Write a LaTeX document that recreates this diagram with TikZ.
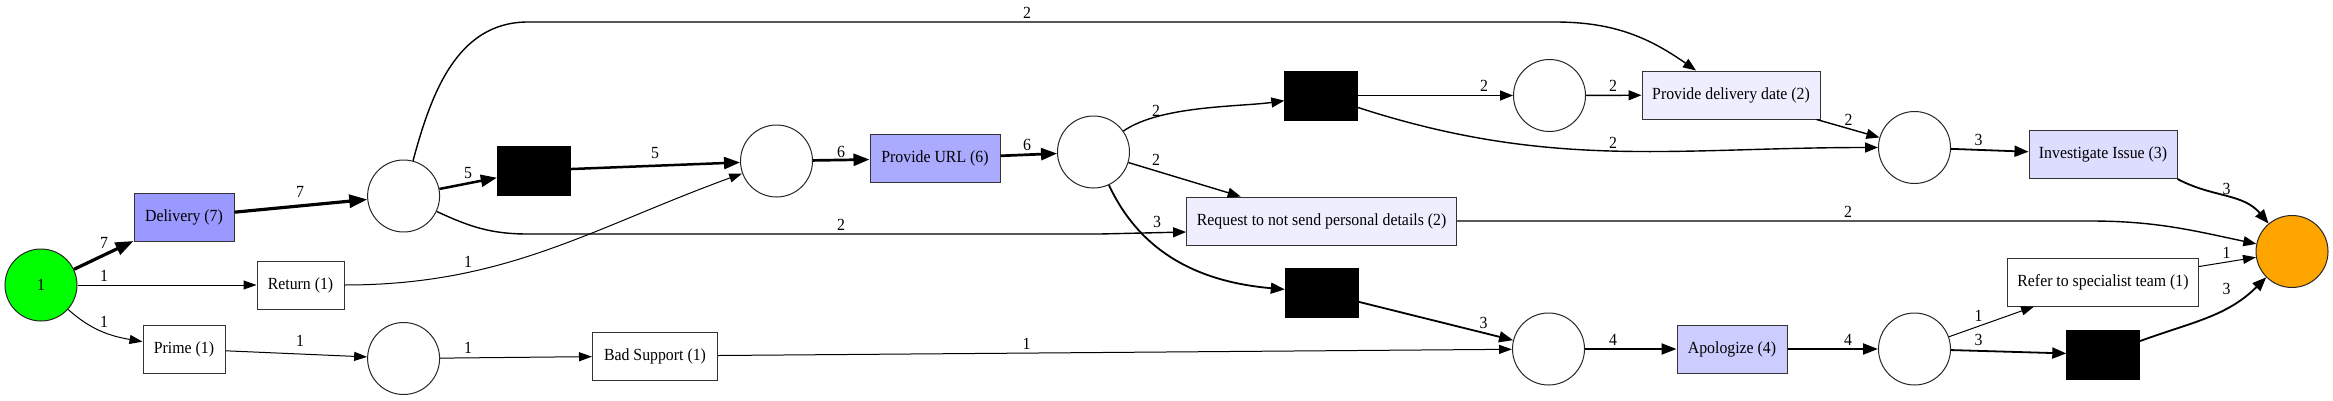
\documentclass[tikz,border=0pt]{standalone}
\usepackage{fontspec}
\setmainfont{Liberation Serif}[FakeStretch=0.93]
\usetikzlibrary{arrows.meta}
\definecolor{startgreen}{RGB}{0,255,0}
\definecolor{endorange}{RGB}{255,165,0}
\definecolor{cseven}{HTML}{9999FF}
\definecolor{csix}{HTML}{AAAAFF}
\definecolor{cfour}{HTML}{CCCCFF}
\definecolor{cthree}{HTML}{DDDDFF}
\definecolor{ctwo}{HTML}{EEEEFF}
\begin{document}
\begin{tikzpicture}[x=1pt,y=1pt,
  place/.style={circle,draw=black!85,line width=1pt,minimum size=72pt,inner sep=0pt,fill=white,font=\fontsize{17}{20}\selectfont},
  trans/.style={rectangle,draw=black!80,line width=1pt,minimum height=48pt,inner sep=0pt,fill=white,font=\fontsize{17}{20}\selectfont},
  silent/.style={rectangle,draw=black,fill=black,minimum width=73pt,minimum height=49pt,inner sep=0pt},
  lbl/.style={inner sep=0pt,font=\fontsize{17}{20}\selectfont},
  eone/.style={line width=1pt,-{Triangle[length=13pt,width=9pt]}},
  etwo/.style={line width=1.4pt,-{Triangle[length=13pt,width=10pt]}},
  ethree/.style={line width=1.8pt,-{Triangle[length=14pt,width=11pt]}},
  efour/.style={line width=2.1pt,-{Triangle[length=15pt,width=11pt]}},
  efive/.style={line width=2.5pt,-{Triangle[length=16pt,width=12pt]}},
  esix/.style={line width=2.7pt,-{Triangle[length=16pt,width=12pt]}},
  eseven/.style={line width=3.2pt,-{Triangle[length=18pt,width=13pt]}}
]
\useasboundingbox (0,0) rectangle (2333,400);
% places
\node[place,fill=startgreen] (start) at (41,115) {1};
\node[place] (p1) at (403.6,204) {};
\node[place] (pp) at (403.6,41.5) {};
\node[place] (p2) at (776.5,239) {};
\node[place] (p3) at (1093.5,248) {};
\node[place] (p4) at (1549.5,304.5) {};
\node[place] (p7) at (1548.5,51) {};
\node[place] (p5) at (1914.5,252.5) {};
\node[place] (p6) at (1914.5,51) {};
\node[place,fill=endorange] (end) at (2292,148.5) {};
% transitions
\node[trans,fill=cseven,minimum width=100pt] (delivery) at (184,183) {Delivery (7)};
\node[trans,minimum width=87pt] (ret) at (300.5,115) {Return (1)};
\node[trans,minimum width=82pt] (prime) at (184,51) {Prime (1)};
\node[trans,minimum width=125pt] (bad) at (655,44) {Bad Support (1)};
\node[trans,fill=csix,minimum width=130pt] (url) at (935,241.5) {Provide URL (6)};
\node[trans,fill=ctwo,minimum width=270pt] (req) at (1321.6,179) {Request to not send personal details (2)};
\node[trans,fill=ctwo,minimum width=178pt] (pdd) at (1731,305) {Provide delivery date (2)};
\node[trans,fill=cfour,minimum width=110pt] (apol) at (1732,51) {Apologize (4)};
\node[trans,fill=cthree,minimum width=148pt] (inv) at (2103,245.5) {Investigate Issue (3)};
\node[trans,minimum width=191pt] (refer) at (2103,118) {Refer to specialist team (1)};
% silent transitions
\node[silent] (b1) at (533.5,229.5) {};
\node[silent] (b2) at (1321,304.5) {};
\node[silent] (b3) at (1321.5,107.4) {};
\node[silent] (b4) at (2103,45.5) {};
% bend points
\coordinate (ta) at (528,378);
\coordinate (tb) at (1555,378);
\coordinate (ba) at (528,166);
\coordinate (bb) at (1100,166);
\coordinate (rc) at (2090,179);
% arcs
\draw[eseven] (start) -- (delivery) node[lbl] at (104,157) {7};
\draw[eone] (start) -- (ret) node[lbl] at (104,124) {1};
\draw[eone] (start) to[out=-42,in=170] (prime) node[lbl] at (104,78) {1};
\draw[eseven] (delivery) -- (p1) node[lbl] at (300,208) {7};
\draw[eone] (prime) -- (pp) node[lbl] at (300,59) {1};
\draw[eone] (pp) -- (bad) node[lbl] at (468,52) {1};
\draw[eone] (ret) to[out=0,in=200] (p2) node[lbl] at (468,138) {1};
\draw[efive] (p1) -- (b1) node[lbl] at (468,227) {5};
\draw[etwo] (p1) to[out=75,in=180] (ta) -- (tb) to[out=0,in=145] (pdd) node[lbl] at (1027,387) {2};
\draw[etwo] (p1) to[out=-25,in=180] (ba) -- (bb) -- ([yshift=-11pt]req.west) node[lbl] at (841,175) {2};
\draw[efive] (b1) -- (p2) node[lbl] at (655,247) {5};
\draw[esix] (p2) -- (url) node[lbl] at (841,248) {6};
\draw[esix] (url) -- (p3) node[lbl] at (1027,255) {6};
\draw[etwo] (p3) to[out=35,in=188,looseness=0.7] (b2) node[lbl] at (1156,289) {2};
\draw[etwo] (p3) -- (req) node[lbl] at (1156,240) {2};
\draw[ethree] (p3) to[out=-65,in=175] (b3) node[lbl] at (1157,178) {3};
\draw[etwo] (b2) -- (p4) node[lbl] at (1484,314) {2};
\draw[etwo] (p4) -- (pdd) node[lbl] at (1613,314) {2};
\draw[etwo] (b2) to[out=-18,in=180] (p5) node[lbl] at (1613,257) {2};
\draw[etwo] (pdd) -- (p5) node[lbl] at (1848.5,280) {2};
\draw[ethree] (p5) -- (inv) node[lbl] at (1978.6,260) {3};
\draw[ethree] (inv.south east) to[out=-28,in=130] (end) node[lbl] at (2226.6,211) {3};
\draw[etwo] (req) -- (rc) to[out=0,in=168] (end) node[lbl] at (1848,188) {2};
\draw[eone] (refer) -- (end) node[lbl] at (2226.6,147) {1};
\draw[ethree] (b4) to[out=20,in=225] (end) node[lbl] at (2226.6,111) {3};
\draw[eone] (p6) -- (refer) node[lbl] at (1978.6,84) {1};
\draw[ethree] (p6) -- (b4) node[lbl] at (1978.6,60) {3};
\draw[efour] (apol) -- (p6) node[lbl] at (1848,60) {4};
\draw[efour] (p7) -- (apol) node[lbl] at (1613,60) {4};
\draw[ethree] (b3) -- (p7) node[lbl] at (1483.5,77) {3};
\draw[eone] (bad) -- (p7) node[lbl] at (1026.5,56) {1};
\end{tikzpicture}
\end{document}
